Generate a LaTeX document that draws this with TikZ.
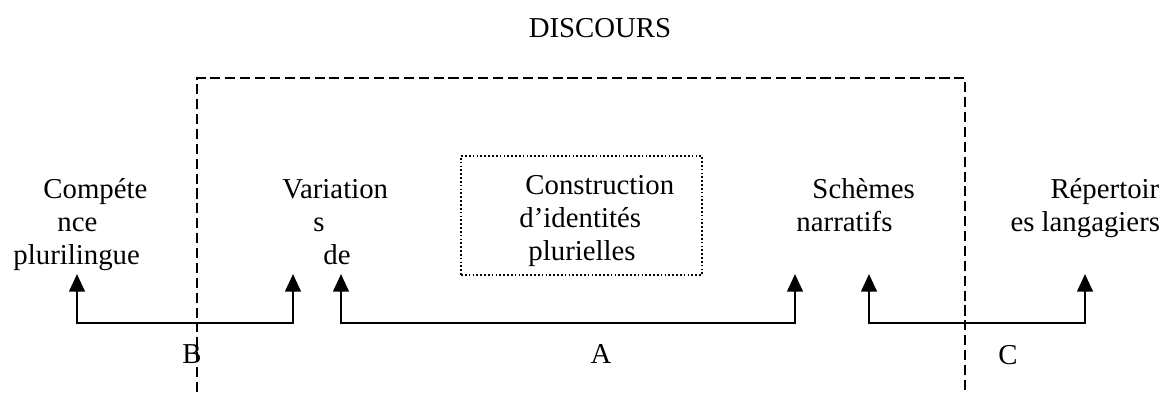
\documentclass[tikz,border=0pt]{standalone}
\usepackage{fontspec}
\setmainfont{Liberation Serif}
\usetikzlibrary{arrows.meta}
\begin{document}
\begin{tikzpicture}[x=0.41667pt,y=-0.41667pt,
  txt/.style={inner sep=0pt,anchor=base west,font=\fontsize{12pt}{14pt}\selectfont},
  ctxt/.style={inner sep=0pt,anchor=base,font=\fontsize{12pt}{14pt}\selectfont},
  bracket/.style={line width=0.9pt,{Triangle[width=6.5pt,length=7.3pt]}-{Triangle[width=6.5pt,length=7.3pt]}},
  frame/.style={line width=1pt,dash pattern=on 4.2pt off 2pt},
  dotbox/.style={draw,line width=0.7pt,dash pattern=on 0.7pt off 0.9pt,inner sep=0pt,
    minimum width=100.4pt,minimum height=49.6pt}]
\useasboundingbox (0,0) rectangle (1164,392);
% title
\node[ctxt] (disc) at (600,37) {DISCOURS};
% dashed frame
\coordinate (fbl) at (197,392);
\coordinate (ftl) at (197,78);
\coordinate (ftr) at (965,78);
\coordinate (fbr) at (965,392);
\draw[frame] (fbl) -- (ftl) -- (ftr) -- (fbr);
% dotted box
\node[dotbox] (cbox) at (581.5,215.5) {};
% texts
\node[txt] (comp1) at (43,198) {Compéte};
\node[txt] (comp2) at (57,231) {nce};
\node[txt] (comp3) at (13,264) {plurilingue};
\node[txt] (var1) at (282,198) {Variation};
\node[txt] (var2) at (313,231) {s};
\node[txt] (var3) at (323,264) {de};
\node[txt] (con1) at (525,194) {Construction};
\node[txt] (con2) at (519,227) {d’identités};
\node[txt] (con3) at (528,260) {plurielles};
\node[txt] (sch1) at (812,198) {Schèmes};
\node[txt] (sch2) at (796,231) {narratifs};
\node[txt] (rep1) at (1050,198) {Répertoir};
\node[txt] (rep2) at (1010,231) {es langagiers};
% bracket labels
\node[ctxt] (labB) at (192,363) {B};
\node[ctxt] (labA) at (601,363) {A};
\node[ctxt] (labC) at (1008,364) {C};
% arrow tips and corners
\coordinate (tB1) at (77,274);  \coordinate (cB1) at (77,323);
\coordinate (tB2) at (293,274); \coordinate (cB2) at (293,323);
\coordinate (tA1) at (341,274); \coordinate (cA1) at (341,323);
\coordinate (tA2) at (795,274); \coordinate (cA2) at (795,323);
\coordinate (tC1) at (869,274); \coordinate (cC1) at (869,323);
\coordinate (tC2) at (1085,274);\coordinate (cC2) at (1085,323);
\draw[bracket] (tB1) -- (cB1) -- (cB2) -- (tB2);
\draw[bracket] (tA1) -- (cA1) -- (cA2) -- (tA2);
\draw[bracket] (tC1) -- (cC1) -- (cC2) -- (tC2);
\end{tikzpicture}
\end{document}
